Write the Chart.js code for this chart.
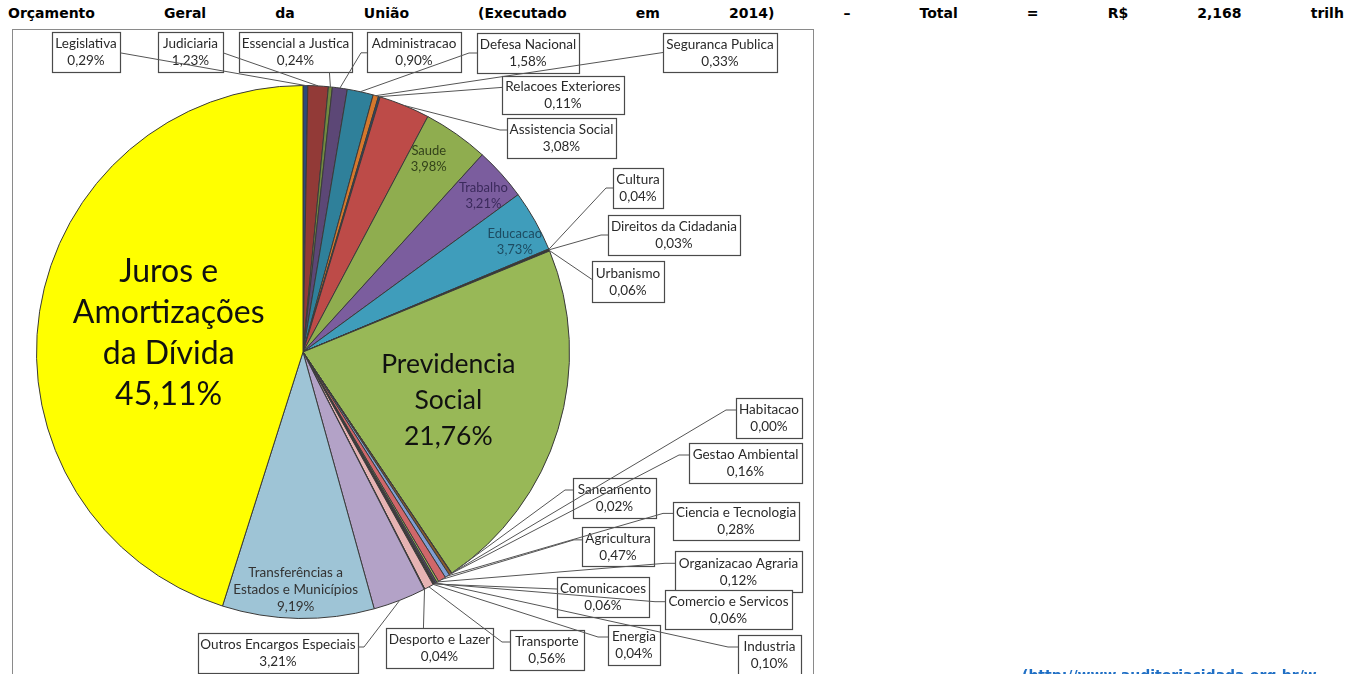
<!DOCTYPE html>
<html lang="pt">
  <head>
    <meta charset="UTF-8" />
    <script src="https://cdn.jsdelivr.net/npm/chart.js"></script>
    <style>
      html,
      body {
        margin: 0;
        width: 1346px;
        height: 674px;
        overflow: hidden;
        background: #fff;
      }
      #title {
        position: absolute;
        left: 8px;
        top: 4px;
        width: 1336px;
        display: flex;
        justify-content: space-between;
        font: bold 14px "DejaVu Sans", Verdana, sans-serif;
        line-height: 18px;
        color: #000;
      }
      #frame {
        position: absolute;
        left: 12px;
        top: 29px;
        width: 800px;
        height: 700px;
        border: 1px solid #8a8a8a;
      }
      #chartBox {
        position: absolute;
        left: 0;
        top: 0;
        width: 1346px;
        height: 674px;
      }
      #source {
        position: absolute;
        left: 1022px;
        top: 667px;
        white-space: nowrap;
        font: bold 14px "DejaVu Sans", Verdana, sans-serif;
        color: #1f6fc5;
      }
    </style>
  </head>
  <body>
    <div id="title"></div>
    <div id="frame"></div>
    <div id="chartBox"><canvas id="budgetChart"></canvas></div>
    <div id="source">(http://www.auditoriacidada.org.br/w</div>

    <script>
      // Orçamento Geral da União 2014 - share of each function (%)
      const categories = [
        "Legislativa", "Judiciaria", "Essencial a Justica", "Administracao",
        "Defesa Nacional", "Seguranca Publica", "Relacoes Exteriores",
        "Assistencia Social", "Saude", "Trabalho", "Educacao", "Cultura",
        "Direitos da Cidadania", "Urbanismo", "Previdencia\nSocial",
        "Habitacao", "Saneamento", "Gestao Ambiental", "Ciencia e Tecnologia",
        "Agricultura", "Organizacao Agraria", "Industria", "Comercio e Servicos",
        "Comunicacoes", "Energia", "Transporte", "Desporto e Lazer",
        "Outros Encargos Especiais", "Transferências a\nEstados e Municípios",
        "Juros e\nAmortizações\nda Dívida",
      ];
      const shares = [
        0.29, 1.23, 0.24, 0.9, 1.58, 0.33, 0.11, 3.08, 3.98, 3.21, 3.73, 0.04,
        0.03, 0.06, 21.76, 0.0, 0.02, 0.16, 0.28, 0.47, 0.12, 0.1, 0.06, 0.06,
        0.04, 0.56, 0.04, 3.21, 9.19, 45.11,
      ];
      const titleWords = [
        "Orçamento", "Geral", "da", "União", "(Executado", "em", "2014)", "–",
        "Total", "=", "R$", "2,168", "trilh",
      ];

      const sliceColors = [
        "#2c4a78", "#923a37", "#71893f", "#5c4776", "#2f809a", "#d5772c",
        "#2a4670", "#bd4b48", "#8fad4f", "#7b5d9e", "#3f9dbb", "#e08a3c",
        "#2a4670", "#1a1a1a", "#98b857", "#4f81bd", "#5c4776", "#8a5a2a",
        "#7f9fd4", "#d0676a", "#9bbb59", "#5f497a", "#31859c", "#953735",
        "#1f1f1f", "#e6b3b3", "#333333", "#b3a2c7", "#9ec4d6", "#ffff00",
      ];

      // text drawn inside big slices (radius fraction, font size, line height)
      const insideLabels = [
        { name: "Juros e\nAmortizações\nda Dívida", rf: 0.51, size: 32, lh: 41, dx: 0, dy: 2, color: "#111" },
        { name: "Previdencia\nSocial", rf: 0.57, size: 26.5, lh: 36, dx: 0, dy: 4, color: "#111" },
        { name: "Transferências a\nEstados e Municípios", rf: 0.89, size: 13.5, lh: 17, dx: -3, dy: 0, color: "#333" },
        { name: "Saude", rf: 0.86, size: 13, lh: 16, dx: -6, dy: -6, color: "#33421a" },
        { name: "Trabalho", rf: 0.9, size: 13, lh: 16, dx: 2, dy: 4, color: "#3b2a5c" },
        { name: "Educacao", rf: 0.9, size: 13, lh: 16, dx: 3, dy: 8, color: "#1d4c62" },
      ];

      // callout boxes: [x, y, w, h], leader attach point as box fraction, stub length
      const callouts = [
        { name: "Legislativa", box: [52, 32, 68, 40], at: [1, 0.52], stub: 0 },
        { name: "Judiciaria", box: [158, 32, 65, 40], at: [1, 0.52], stub: 0 },
        { name: "Essencial a Justica", box: [239, 32, 113, 40], at: [0.8, 1], stub: 0 },
        { name: "Administracao", box: [367, 32, 94, 40], at: [0, 0.52], stub: 6 },
        { name: "Defesa Nacional", box: [477, 33, 102, 40], at: [0, 0.5], stub: 8 },
        { name: "Seguranca Publica", box: [663, 33, 114, 39], at: [0, 0.5], stub: 0 },
        { name: "Relacoes Exteriores", box: [502, 76, 122, 38], at: [0, 0.3], stub: 0 },
        { name: "Assistencia Social", box: [507, 118, 109, 40], at: [0, 0.3], stub: 7 },
        { name: "Cultura", box: [613, 168, 50, 40], at: [0, 0.5], stub: 7 },
        { name: "Direitos da Cidadania", box: [608, 215, 132, 40], at: [0, 0.5], stub: 7 },
        { name: "Urbanismo", box: [592, 261, 72, 41], at: [0, 0.45], stub: 0 },
        { name: "Habitacao", box: [736, 398, 66, 40], at: [0, 0.3], stub: 10 },
        { name: "Gestao Ambiental", box: [689, 443, 113, 40], at: [0, 0.3], stub: 10 },
        { name: "Saneamento", box: [573, 478, 83, 40], at: [0, 0.3], stub: 8 },
        { name: "Ciencia e Tecnologia", box: [673, 502, 126, 38], at: [0, 0.3], stub: 10 },
        { name: "Agricultura", box: [582, 527, 72, 39], at: [0, 0.33], stub: 8 },
        { name: "Organizacao Agraria", box: [675, 551, 127, 41], at: [0, 0.3], stub: 10 },
        { name: "Comunicacoes", box: [557, 577, 92, 40], at: [0, 0.3], stub: 0 },
        { name: "Comercio e Servicos", box: [665, 590, 127, 39], at: [0, 0.3], stub: 10 },
        { name: "Industria", box: [738, 635, 63, 40], at: [0, 0.3], stub: 10 },
        { name: "Energia", box: [608, 625, 52, 40], at: [0, 0.3], stub: 10 },
        { name: "Transporte", box: [510, 630, 74, 40], at: [0, 0.3], stub: 8 },
        { name: "Desporto e Lazer", box: [386, 628, 107, 40], at: [0.35, 0], stub: 0 },
        { name: "Outros Encargos Especiais", box: [198, 633, 160, 40], at: [1, 0.35], stub: 6 },
      ];

      const titleEl = document.getElementById("title");
      titleWords.forEach((w) => {
        const s = document.createElement("span");
        s.textContent = w;
        titleEl.appendChild(s);
      });

      function pct(v) {
        return v.toFixed(2).replace(".", ",") + "%";
      }

      function arcProps(chart, i) {
        const arc = chart.getDatasetMeta(0).data[i];
        return arc.getProps(["x", "y", "startAngle", "endAngle", "outerRadius"], true);
      }

      const labelPlugin = {
        id: "budgetLabels",
        afterDatasetsDraw(chart) {
          const ctx = chart.ctx;
          ctx.save();
          ctx.textAlign = "center";
          ctx.textBaseline = "middle";

          insideLabels.forEach((l) => {
            const i = categories.indexOf(l.name);
            const a = arcProps(chart, i);
            const mid = (a.startAngle + a.endAngle) / 2;
            const cx = a.x + Math.cos(mid) * a.outerRadius * l.rf + l.dx;
            const cy = a.y + Math.sin(mid) * a.outerRadius * l.rf + l.dy;
            const lines = l.name.split("\n").concat(pct(shares[i]));
            ctx.font = l.size + "px Lato, 'Open Sans', sans-serif";
            ctx.fillStyle = l.color;
            const top = cy - ((lines.length - 1) * l.lh) / 2;
            lines.forEach((t, k) => ctx.fillText(t, cx, top + k * l.lh));
          });

          // boxes first, leader lines on top of them
          ctx.font = "13.5px Lato, 'Open Sans', sans-serif";
          callouts.forEach((c) => {
            const i = categories.indexOf(c.name);
            const [bx, by, bw, bh] = c.box;
            ctx.fillStyle = "#fff";
            ctx.fillRect(bx, by, bw, bh);
            ctx.strokeStyle = "#4a4a4a";
            ctx.lineWidth = 1.2;
            ctx.strokeRect(bx + 0.5, by + 0.5, bw, bh);
            ctx.fillStyle = "#2a2a2a";
            ctx.fillText(c.name, bx + bw / 2, by + bh / 2 - 8);
            ctx.fillText(pct(shares[i]), bx + bw / 2, by + bh / 2 + 9);
          });

          ctx.strokeStyle = "#555";
          ctx.lineWidth = 1;
          callouts.forEach((c) => {
            const i = categories.indexOf(c.name);
            const a = arcProps(chart, i);
            const mid = (a.startAngle + a.endAngle) / 2;
            const px = a.x + Math.cos(mid) * a.outerRadius;
            const py = a.y + Math.sin(mid) * a.outerRadius;
            const [bx, by, bw, bh] = c.box;
            const ax = bx + bw * c.at[0];
            const ay = by + bh * c.at[1];
            ctx.beginPath();
            ctx.moveTo(px, py);
            if (c.stub) {
              const dir = c.at[0] === 0 ? -1 : 1;
              ctx.lineTo(ax + dir * c.stub, ay);
            }
            ctx.lineTo(ax, ay);
            ctx.stroke();
          });
          ctx.restore();
        },
      };

      const ctx = document.getElementById("budgetChart").getContext("2d");
      new Chart(ctx, {
        type: "pie",
        data: {
          labels: categories,
          datasets: [
            {
              data: shares,
              backgroundColor: sliceColors,
              borderColor: "#3a3a3a",
              borderWidth: 1,
            },
          ],
        },
        options: {
          responsive: true,
          maintainAspectRatio: false,
          animation: false,
          layout: {
            padding: { left: 36, top: 85, right: 776, bottom: 55 },
          },
          plugins: {
            legend: { display: false },
            tooltip: { enabled: false },
          },
        },
        plugins: [labelPlugin],
      });
    </script>
  </body>
</html>
